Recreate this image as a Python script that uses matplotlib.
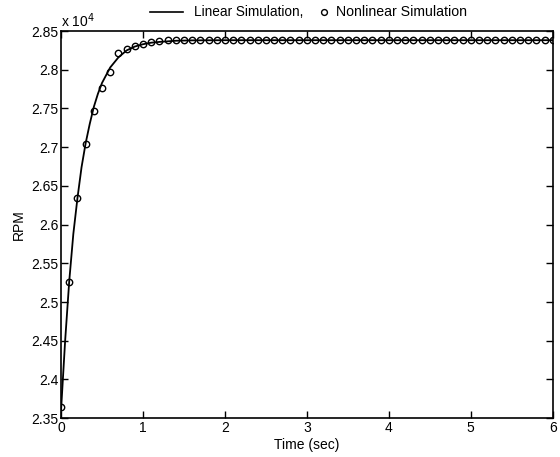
import matplotlib
matplotlib.use("Agg")
import matplotlib.pyplot as plt
from matplotlib.ticker import FuncFormatter, MultipleLocator
from matplotlib.lines import Line2D

plt.rcParams['font.family'] = ['Liberation Sans', 'DejaVu Sans']

# Linear simulation
lin_t = [0.0, 0.05, 0.1, 0.15, 0.2, 0.25, 0.3, 0.35, 0.4, 0.45, 0.5, 0.6, 0.7,
         0.8, 0.9, 1.0, 1.1, 1.2, 1.4, 1.6, 2.0, 3.0, 4.0, 5.0, 6.0]
lin_rpm = [23600, 24500, 25270, 25880, 26340, 26740, 27050, 27300, 27520, 27690,
           27830, 28030, 28160, 28250, 28300, 28330, 28350, 28360, 28375, 28380,
           28382, 28382, 28382, 28382, 28382]

# Nonlinear simulation samples (every 0.1 s)
nl_t = [round(0.1 * i, 1) for i in range(61)]
nl_rpm = [23640, 25260, 26340, 27040, 27470, 27760, 27970, 28220, 28270, 28310,
          28330, 28360, 28370] + [28380] * 48

W, H = 560, 457
fig = plt.figure(figsize=(5.6, 4.57), dpi=100)
ax = fig.add_axes([0.109, 0.085, 0.878, 0.847])

ax.plot(lin_t, lin_rpm, color='black', lw=1.3)
ax.plot(nl_t, nl_rpm, linestyle='none', marker='o', markersize=4.6,
        markerfacecolor='none', markeredgecolor='black', markeredgewidth=1.0)

ax.set_xlim(0, 6)
ax.set_ylim(23500, 28500)
ax.xaxis.set_major_locator(MultipleLocator(1))
ax.yaxis.set_major_locator(MultipleLocator(500))
ax.yaxis.set_major_formatter(FuncFormatter(lambda v, p: f"{v/1e4:g}"))
ax.tick_params(direction='in', top=True, right=True, length=5, width=1,
               labelsize=10, pad=2)
for s in ax.spines.values():
    s.set_linewidth(1.2)

ax.set_xlabel('Time (sec)', fontsize=10, labelpad=2)
ax.set_ylabel('RPM', fontsize=10, labelpad=4)
ax.text(0.0, 1.004, 'x 10$^4$', transform=ax.transAxes, fontsize=10,
        ha='left', va='bottom')

# legend drawn above the axes
ly = 1 - 12 / H
fig.add_artist(Line2D([150 / W, 183 / W], [ly, ly], color='black', lw=1.2,
                      transform=fig.transFigure))
fig.text(194 / W, ly, 'Linear Simulation,', fontsize=9.8, ha='left', va='center')
fig.add_artist(Line2D([324 / W], [ly], linestyle='none', marker='o',
                      markersize=4.2, markerfacecolor='none',
                      markeredgecolor='black', markeredgewidth=1.0,
                      transform=fig.transFigure))
fig.text(336 / W, ly, 'Nonlinear Simulation', fontsize=10.2, ha='left', va='center')

fig.savefig('out.png', dpi=100)
